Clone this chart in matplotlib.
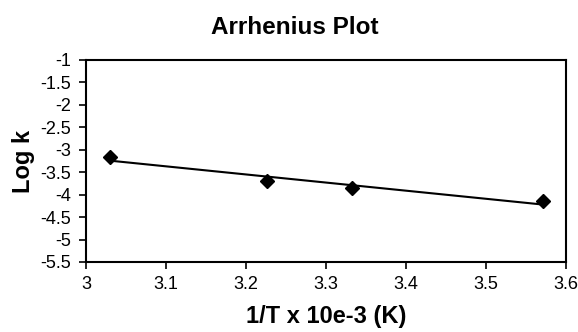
import numpy as np
import matplotlib
matplotlib.use("Agg")
import matplotlib.pyplot as plt

plt.rcParams['font.family'] = ['Liberation Sans', 'DejaVu Sans']

inv_T = [3.03, 3.226, 3.333, 3.5715]
log_k = [-3.15, -3.70, -3.85, -4.15]
x_ticks = [3.0, 3.1, 3.2, 3.3, 3.4, 3.5, 3.6]
x_tick_labels = ["3", "3.1", "3.2", "3.3", "3.4", "3.5", "3.6"]
y_ticks = [-1, -1.5, -2, -2.5, -3, -3.5, -4, -4.5, -5, -5.5]
y_tick_labels = ["-1", "-1.5", "-2", "-2.5", "-3", "-3.5", "-4", "-4.5", "-5", "-5.5"]

fig = plt.figure(figsize=(5.78, 3.32), dpi=100)
ax = fig.add_axes([86/578, 70/332, 480/578, 202/332])

x = np.array(inv_T)
y = np.array(log_k)
m, b = np.polyfit(x, y, 1)
xf = np.array([x.min(), x.max()])
ax.plot(xf, m*xf + b, color='black', lw=1.5, zorder=2)
ax.plot(x, y, linestyle='none', marker='D', markersize=7, color='black', zorder=3)

ax.set_xlim(3.0, 3.6)
ax.set_ylim(-5.5, -1)
ax.set_xticks(x_ticks)
ax.set_xticklabels(x_tick_labels)
ax.set_yticks(y_ticks)
ax.set_yticklabels(y_tick_labels)
ax.tick_params(direction='out', length=5, width=1.2, labelsize=13, colors='black', pad=5)
ax.tick_params(axis='y', pad=6)
ax.tick_params(top=False, right=False)
for s in ax.spines.values():
    s.set_linewidth(1.5)
    s.set_color('black')

ax.set_xlabel("1/T x 10e-3 (K)", fontsize=17, fontweight='bold', labelpad=9)
ax.set_ylabel("Log k", fontsize=17, fontweight='bold', labelpad=3.5)
fig.text(295/578, 1 - 27/332, "Arrhenius Plot", ha='center', va='center', fontsize=17.5, fontweight='bold')

fig.savefig("out.png", dpi=100)
